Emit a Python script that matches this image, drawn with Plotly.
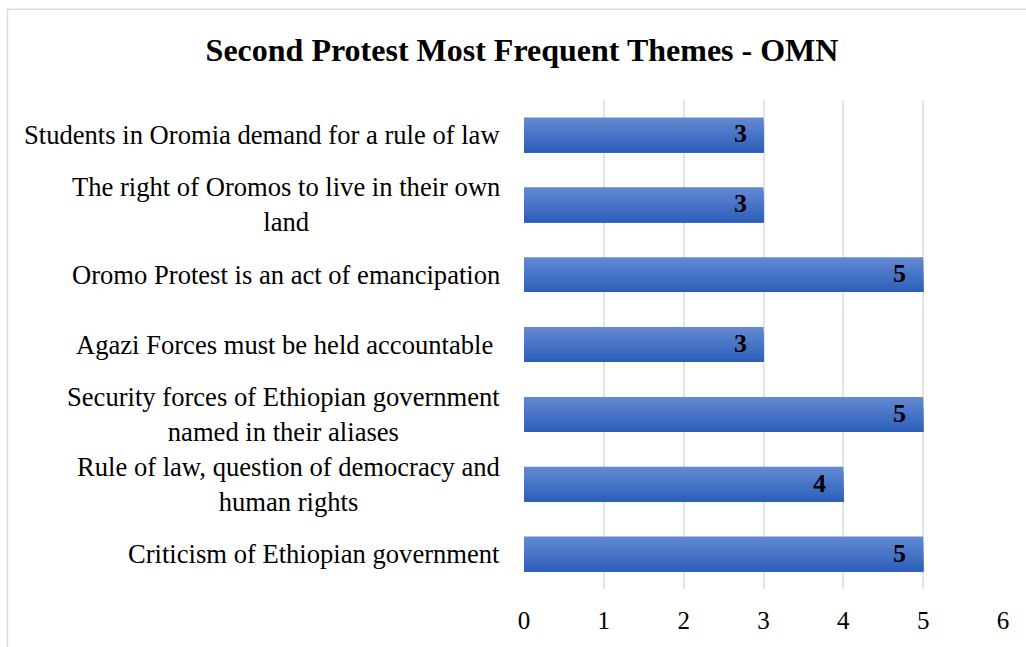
import plotly.graph_objects as go

categories = [
    "Criticism of Ethiopian government",
    "Rule of law, question of democracy and<br>human rights",
    "Security forces of Ethiopian government<br>named in their aliases",
    "Agazi Forces must be held accountable ",
    "Oromo Protest is an act of emancipation",
    "The right of Oromos to live in their own<br>land",
    "Students in Oromia demand for a rule of law",
]
values = [5, 4, 5, 3, 5, 3, 3]
tick_vals = [0, 1, 2, 3, 4, 5, 6]
title_text = "Second Protest Most Frequent Themes - OMN"

FONT = "Liberation Serif, Times New Roman, serif"

# vertical gradient of the bar fill (top -> bottom), drawn as nested layers
TOP = (98, 136, 209)
BOT = (46, 96, 187)
N_LAYERS = 12
BAR_W = 0.5

fig = go.Figure()
for k in range(N_LAYERS):
    t = k / (N_LAYERS - 1)
    col = tuple(round(TOP[j] + (BOT[j] - TOP[j]) * t) for j in range(3))
    fig.add_trace(go.Bar(
        y=categories,
        x=values,
        orientation="h",
        width=BAR_W * (1 - k / N_LAYERS),
        offset=-BAR_W / 2,
        marker=dict(color="rgb(%d,%d,%d)" % col, line=dict(width=0)),
        hoverinfo="x+y" if k == 0 else "skip",
    ))

# data labels, inside end of each bar
for c, v in zip(categories, values):
    fig.add_annotation(
        x=v, xref="x", y=c, yref="y",
        text="<b>" + str(v) + "</b>", showarrow=False,
        xanchor="right", yanchor="middle", xshift=-15, yshift=1,
        font=dict(family=FONT, size=26, color="black"),
    )

# category labels, centered multi-line like the original
for c in categories:
    fig.add_annotation(
        x=0, xref="paper", y=c, yref="y",
        text=c, showarrow=False, xanchor="right", yanchor="middle",
        align="center", xshift=-22,
        font=dict(family=FONT, size=26.6, color="black"),
    )

fig.add_shape(
    type="rect", xref="paper", yref="paper",
    x0=(7.5 - 524) / 479, x1=(1040 - 524) / 479,
    y0=(589.5 - 660) / 490, y1=(589.5 - 8.5) / 490,
    line=dict(color="#d9dde3", width=1.5), fillcolor="rgba(0,0,0,0)",
    layer="below",
)

fig.update_layout(
    width=1026, height=647,
    margin=dict(l=524, r=23, t=99.5, b=57.5),
    paper_bgcolor="white", plot_bgcolor="white",
    showlegend=False,
    barmode="overlay",
    title=dict(text="<b>" + title_text + "</b>", x=522 / 1026, xanchor="center",
               y=1 - 50 / 647, yanchor="middle",
               font=dict(family=FONT, size=32, color="black")),
    xaxis=dict(range=[0, 6], tickvals=tick_vals, showgrid=True,
               gridcolor="#e1e4e9", gridwidth=2, zeroline=False,
               showline=False, ticks="", ticklabelstandoff=14,
               tickfont=dict(family=FONT, size=25, color="black")),
    yaxis=dict(showticklabels=False, showgrid=False, zeroline=False,
               showline=False, ticks=""),
)

fig.write_html("out.html", config={"displayModeBar": False},
               post_script="document.body.style.margin='0';")
